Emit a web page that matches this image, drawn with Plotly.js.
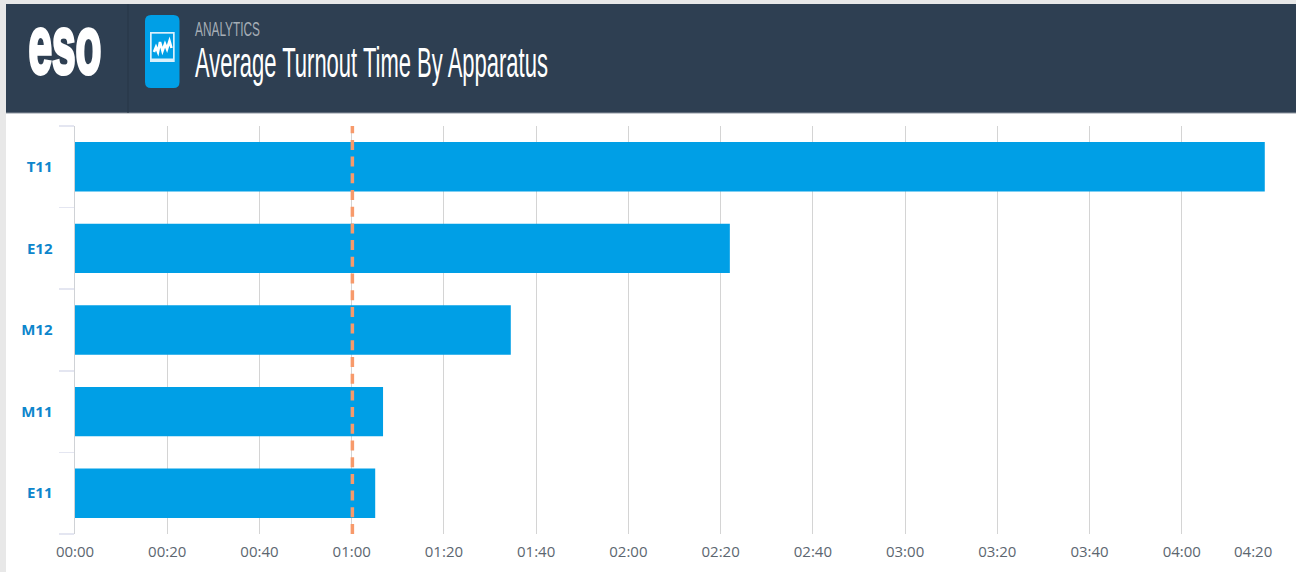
<!DOCTYPE html>
<html><head><meta charset="utf-8">
<script src="https://cdn.plot.ly/plotly-3.0.1.min.js"></script>
<style>html,body{margin:0;padding:0;background:#fff;overflow:hidden}#c{width:1296px;height:572px}</style>
</head><body><div id="c"></div>
<script>
const apparatus = ['T11','E12','M12','M11','E11'];
const turnoutSeconds = [258, 142, 94.5, 66.8, 65.1];
const goalSeconds = 60.15;
const tickSeconds = [0,20,40,60,80,100,120,140,160,180,200,220,240];
const tickLabels = ['00:00','00:20','00:40','01:00','01:20','01:40','02:00','02:20','02:40','03:00','03:20','03:40','04:00'];
const lastTickSeconds = 260;
const lastTickLabel = '04:20';
const W=1296,H=572,L=75,R=22,T=126,B=38;
const px=x=>(x-L)/(W-L-R), py=y=>1-(y-T)/(H-T-B);
const box=(x0,y0,x1,y1,fill,layer)=>({type:'rect',xref:'paper',yref:'paper',x0:px(x0),x1:px(x1),y0:py(y0),y1:py(y1),fillcolor:fill,line:{width:0},layer:layer||'below'});
const pathShape=(pts,extra)=>Object.assign({type:'path',xref:'paper',yref:'paper',layer:'above',
  path:'M'+pts.map(p=>px(p[0])+','+py(p[1])).join('L')},extra);
const rr=(x0,y0,x1,y1,r)=>{const X=px,Y=py;return `M${X(x0+r)},${Y(y0)}L${X(x1-r)},${Y(y0)}Q${X(x1)},${Y(y0)} ${X(x1)},${Y(y0+r)}L${X(x1)},${Y(y1-r)}Q${X(x1)},${Y(y1)} ${X(x1-r)},${Y(y1)}L${X(x0+r)},${Y(y1)}Q${X(x0)},${Y(y1)} ${X(x0)},${Y(y1-r)}L${X(x0)},${Y(y0+r)}Q${X(x0)},${Y(y0)} ${X(x0+r)},${Y(y0)}Z`;};
const trace={type:'bar',orientation:'h',y:apparatus,x:turnoutSeconds,width:0.605,
  marker:{color:'#009fe6',line:{width:0}},hoverinfo:'x+y'};
const layout={
  width:W,height:H,margin:{l:L,r:R,t:T,b:B,pad:0},paper_bgcolor:'#fff',plot_bgcolor:'#fff',showlegend:false,
  font:{family:'"Open Sans",sans-serif'},
  title:{text:'Average Turnout Time By Apparatus',xref:'paper',yref:'container',x:px(195),xanchor:'left',y:1-62/H,yanchor:'middle',
    font:{family:'"Liberation Sans",sans-serif',size:42,color:'#fff'},pad:{l:0,r:0,t:0,b:0}},
  xaxis:{range:[0,lastTickSeconds],tickmode:'array',tickvals:tickSeconds,ticktext:tickLabels,showgrid:true,gridcolor:'#d4d4d4',gridwidth:1,
    zeroline:false,showline:false,ticks:'',ticklabelstandoff:7,tickfont:{size:15,color:'#5c6670',family:'"Open Sans",sans-serif'},fixedrange:true},
  yaxis:{type:'category',categoryorder:'array',categoryarray:apparatus.slice().reverse(),tickson:'boundaries',ticks:'outside',ticklen:15,tickwidth:1.5,tickcolor:'#e4e6f1',
    showgrid:false,zeroline:false,showline:true,linecolor:'#cfd2d6',linewidth:1.5,ticklabelstandoff:18,
    tickfont:{size:15,color:'#0d86cc',family:'"Open Sans",sans-serif',weight:700},fixedrange:true},
  bargap:0.39,
  shapes:[
    box(0,0,W,4,'#e8e8e8'),
    box(0,0,6,H,'#e8e8e8'),
    box(6,4,W,113,'#2e3f52'),
    box(6,112.5,W,113.5,'#8d96a0'),
    box(127.5,4,128.5,113,'#273646'),
    {type:'path',xref:'paper',yref:'paper',layer:'below',path:rr(145,15,179.5,88,6),fillcolor:'#009fe6',line:{width:0}},
    box(150,32,174.7,62,'#d9f0fb','above'),
    box(151.7,33.7,173,58.5,'#009fe6','above'),
    pathShape([[154,52],[156,47],[158,52],[160,42],[162.5,51],[165,44],[167,49],[169.5,41],[171.5,48]],{line:{color:'#fff',width:2.6}}),
    {type:'line',xref:'x',yref:'paper',x0:goalSeconds,x1:goalSeconds,y0:0,y1:1,layer:'above',line:{color:'#f79a6b',width:3.5,dash:'10px,6.7px'}}
  ],
  annotations:[
    {text:'eso',xref:'paper',yref:'paper',x:px(65),y:py(44),xanchor:'center',yanchor:'middle',showarrow:false,font:{family:'"Liberation Sans",sans-serif',size:62,color:'#fff',weight:700}},
    {text:'ANALYTICS',xref:'paper',yref:'paper',x:px(195),y:py(29.5),xanchor:'left',yanchor:'middle',showarrow:false,font:{family:'"Liberation Sans",sans-serif',size:20,color:'#a6aeb6'}},
    {text:lastTickLabel,xref:'x',yref:'paper',x:lastTickSeconds,xshift:-21,y:py(551),xanchor:'center',yanchor:'middle',showarrow:false,font:{size:15,color:'#5c6670',family:'"Open Sans",sans-serif'}}
  ]
};
function squeeze(el,left,right,sy){
  if(!el) return;
  const b=el.getBBox(), r=el.getBoundingClientRect();
  const s=(right-left)/r.width, dx=left-r.left, cy=b.y+b.height/2, yS=sy||1;
  el.setAttribute('transform',`translate(${b.x+dx},${cy}) scale(${s},${yS}) translate(${-b.x},${-cy})`);
}
Plotly.newPlot('c',[trace],layout,{displayModeBar:false,staticPlot:true}).then(()=>{
  const ann=document.querySelectorAll('.annotation-text');
  squeeze(document.querySelector('.gtitle'),195,548);
  squeeze(ann[0],28.5,101.5,1.32);
  squeeze(ann[1],195,260);
  ann[0].style.stroke='#fff';
  ann[0].style.strokeWidth='3px';
  ann[0].style.paintOrder='stroke';
});
</script></body></html>
